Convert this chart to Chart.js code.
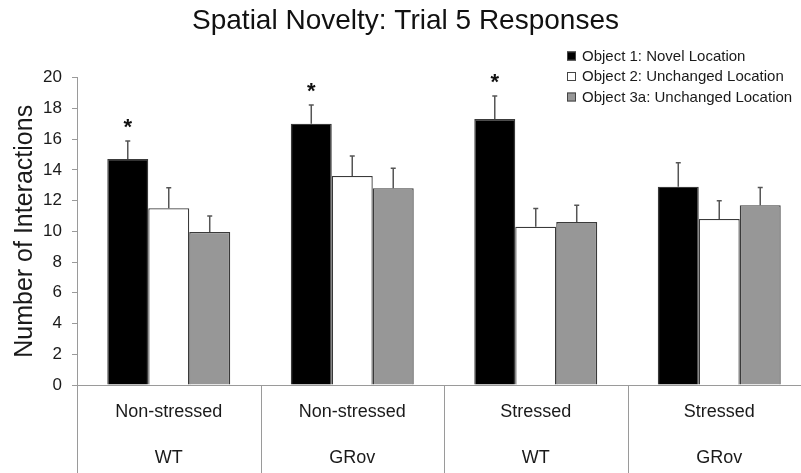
<!DOCTYPE html>
<html>
<head>
<meta charset="utf-8">
<title>Spatial Novelty: Trial 5 Responses</title>
<script src="https://cdn.jsdelivr.net/npm/chart.js@4/dist/chart.umd.min.js"></script>
<style>
    body { margin: 0; background: #fff; overflow: hidden; }
    #wrap { width: 812px; height: 473px; }
</style>
</head>
<body>
<div id="wrap"><canvas id="noveltyChart" width="812" height="473"></canvas></div>
<script>
const conditions = ['Non-stressed', 'Non-stressed', 'Stressed', 'Stressed'];
const genotypes = ['WT', 'GRov', 'WT', 'GRov'];

const seriesNames = ['Object 1: Novel Location', 'Object 2: Unchanged Location', 'Object 3a: Unchanged Location'];
const object1 = [14.7, 17.0, 17.3, 12.9];
const object2 = [11.5, 13.6, 10.3, 10.8];
const object3a = [9.95, 12.8, 10.6, 11.7];

// SEM (upper half only is shown)
const object1Err = [1.17, 1.22, 1.5, 1.56];
const object2Err = [1.34, 1.3, 1.18, 1.18];
const object3aErr = [1.05, 1.3, 1.09, 1.15];

// significance marks over the novel-location bars
const significant = [true, true, true, false];

const yTicks = [0, 2, 4, 6, 8, 10, 12, 14, 16, 18, 20];

const AXIS_COLOR = '#9a9a9a';
const FONT = '"Liberation Sans", Arial, sans-serif';

const labels = conditions.map((c, i) => [c, genotypes[i]]);

// error bars + asterisks
const errorBarPlugin = {
    id: 'errorBars',
    afterDatasetsDraw(chart) {
        const ctx = chart.ctx;
        const y = chart.scales.y;
        ctx.save();
        chart.data.datasets.forEach((ds, di) => {
            const meta = chart.getDatasetMeta(di);
            meta.data.forEach((bar, i) => {
                const top = y.getPixelForValue(ds.data[i] + ds.errors[i]);
                const base = y.getPixelForValue(ds.data[i]);
                ctx.strokeStyle = '#555';
                ctx.lineWidth = 1.5;
                ctx.beginPath();
                ctx.moveTo(bar.x, base);
                ctx.lineTo(bar.x, top);
                ctx.moveTo(bar.x - 2.5, top);
                ctx.lineTo(bar.x + 2.5, top);
                ctx.stroke();
                if (di === 0 && significant[i]) {
                    ctx.fillStyle = '#111';
                    ctx.font = 'bold 22px ' + FONT;
                    ctx.textAlign = 'center';
                    ctx.textBaseline = 'middle';
                    ctx.fillText('*', bar.x, top - 13);
                }
            });
        });
        ctx.restore();
    }
};

// vertical separators under the x axis + legend in the top right
const decorPlugin = {
    id: 'decor',
    afterDraw(chart) {
        const ctx = chart.ctx;
        const x = chart.scales.x;
        const area = chart.chartArea;
        ctx.save();
        ctx.strokeStyle = AXIS_COLOR;
        ctx.lineWidth = 1;
        const half = (x.getPixelForValue(1) - x.getPixelForValue(0)) / 2;
        for (let i = 0; i <= labels.length; i++) {
            const px = Math.round(x.getPixelForValue(i) - half) + 0.5;
            ctx.beginPath();
            ctx.moveTo(px, area.bottom);
            ctx.lineTo(px, chart.height);
            ctx.stroke();
        }

        // legend
        const lx = 567, ly = 56, step = 20.5;
        chart.data.datasets.forEach((ds, i) => {
            const cy = ly + i * step;
            ctx.fillStyle = ds.backgroundColor;
            ctx.fillRect(lx, cy - 4.5, 9, 9);
            ctx.strokeStyle = '#444';
            ctx.lineWidth = 1;
            ctx.strokeRect(lx + 0.5, cy - 4, 8, 8);
            ctx.fillStyle = '#1a1a1a';
            ctx.font = '15px ' + FONT;
            ctx.textAlign = 'left';
            ctx.textBaseline = 'middle';
            ctx.fillText(ds.label, lx + 15, cy + 0.5);
        });
        ctx.restore();
    }
};

const ctx = document.getElementById('noveltyChart').getContext('2d');
const chart = new Chart(ctx, {
    type: 'bar',
    data: {
        labels: labels,
        datasets: [
            {
                label: seriesNames[0],
                data: object1,
                errors: object1Err,
                backgroundColor: '#000000',
                borderColor: '#3a3a3a',
                borderWidth: 1.3
            },
            {
                label: seriesNames[1],
                data: object2,
                errors: object2Err,
                backgroundColor: '#ffffff',
                borderColor: '#3a3a3a',
                borderWidth: 1.3
            },
            {
                label: seriesNames[2],
                data: object3a,
                errors: object3aErr,
                backgroundColor: '#979797',
                borderColor: '#3a3a3a',
                borderWidth: 1.3
            }
        ]
    },
    options: {
        responsive: false,
        animation: false,
        layout: { padding: { left: 0, right: 1, top: 0, bottom: 0 } },
        datasets: {
            bar: { categoryPercentage: 0.67, barPercentage: 1.0 }
        },
        plugins: {
            legend: { display: false },
            tooltip: { enabled: false },
            title: {
                display: true,
                text: 'Spatial Novelty: Trial 5 Responses',
                color: '#111',
                font: { family: FONT, size: 28, weight: 'normal' },
                padding: { top: 4, bottom: 40 }
            }
        },
        scales: {
            x: {
                grid: { display: true, drawOnChartArea: false, drawTicks: false },
                border: { display: true, color: AXIS_COLOR, width: 1 },
                ticks: {
                    color: '#1a1a1a',
                    padding: 4,
                    font: { family: FONT, size: 18, lineHeight: 2.55 }
                },
                afterFit(scale) { scale.height = 88; }
            },
            y: {
                min: 0,
                max: 20,
                afterBuildTicks(scale) { scale.ticks = yTicks.map(v => ({ value: v })); },
                grid: { display: true, drawOnChartArea: false, drawTicks: true, tickLength: 5, color: AXIS_COLOR },
                border: { display: true, color: AXIS_COLOR, width: 1 },
                ticks: {
                    color: '#1a1a1a',
                    padding: 10,
                    font: { family: FONT, size: 17 }
                },
                title: {
                    display: true,
                    text: 'Number of Interactions',
                    color: '#1a1a1a',
                    font: { family: FONT, size: 25 },
                    padding: { top: 10, bottom: 0 }
                },
                afterFit(scale) { scale.width = 77; }
            }
        }
    },
    plugins: [errorBarPlugin, decorPlugin]
});
</script>
</body>
</html>
